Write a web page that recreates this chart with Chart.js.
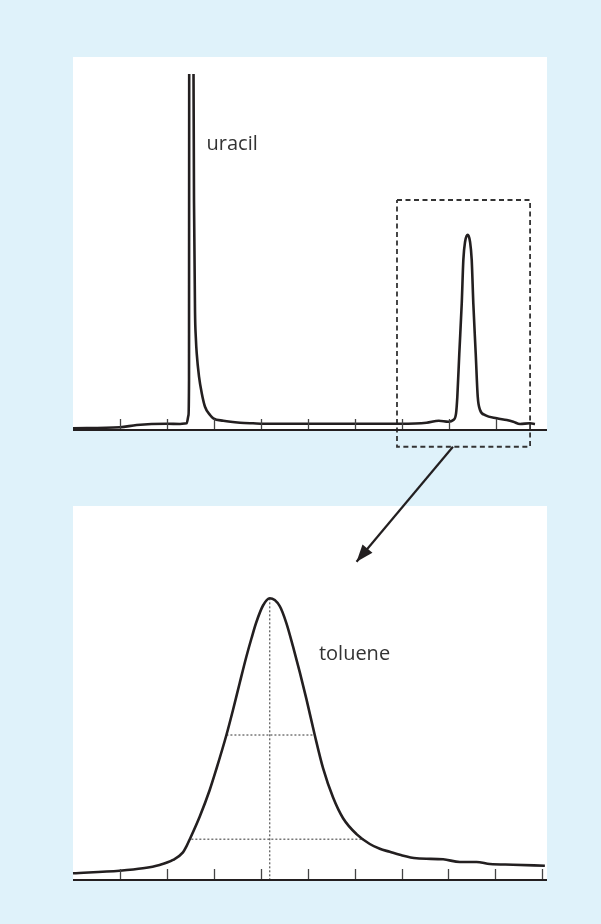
<!DOCTYPE html>
<html>
<head>
<meta charset="utf-8">
<script src="https://cdn.jsdelivr.net/npm/chart.js@4.4.0/dist/chart.umd.min.js"></script>
<style>
  body { margin: 0; width: 601px; height: 924px; background: #dff2fa; position: relative; overflow: hidden; }
  .panel { position: absolute; background: #fff; }
  canvas { position: absolute; left: 0; top: 0; }
</style>
</head>
<body>
<div class="panel" style="left:73px;top:57px;width:474px;height:374px"></div>
<div class="panel" style="left:73px;top:506px;width:474px;height:375px"></div>
<canvas id="zoomChart" width="601" height="924"></canvas>
<canvas id="fullChart" width="601" height="924"></canvas>
<script>
// full chromatogram (retention time, detector signal)
const fullTime = [0, 1.0, 1.355, 1.993, 2.276, 2.418, 2.456, 2.467, 2.471, 2.516, 2.563, 2.573, 2.595, 2.612, 2.631,
  2.680, 2.737, 2.807, 2.914, 2.984, 3.196, 3.552, 3.828, 4.19, 5.249, 6.951, 7.519, 7.780, 7.982, 8.088,
  8.146, 8.173, 8.215, 8.267, 8.301, 8.337, 8.395, 8.444, 8.479, 8.513, 8.564, 8.607, 8.656, 8.762, 9.011,
  9.224, 9.364, 9.506, 9.719, 9.825];
const fullSignal = [0.48, 0.76, 1.40, 1.77, 1.69, 1.88, 4.21, 14.0, 100, 130, 100, 64.6, 33.0, 26.0, 21.5,
  15.0, 10.4, 6.54, 4.21, 3.29, 2.61, 2.05, 1.88, 1.74, 1.74, 1.77, 2.05, 2.61, 2.33, 2.81,
  4.69, 9.35, 21.5, 35.6, 47.8, 52.8, 54.8, 52.8, 47.8, 35.6, 21.5, 9.35, 5.62, 4.21, 3.29,
  2.81, 2.33, 1.69, 1.88, 1.69];
const fullTicks = [1, 2, 3, 4, 5, 6, 7, 8, 9];

// expanded toluene peak
const zoomTime = [0, 0.994, 1.49, 1.846, 2.13, 2.343, 2.42, 2.486, 2.699, 2.913, 3.055, 3.269, 3.409, 3.552, 3.695,
  3.802, 3.908, 4.049, 4.192, 4.405, 4.548, 4.689, 4.832, 4.974, 5.151, 5.328, 5.542, 5.755, 6.041, 6.324,
  6.537, 6.750, 6.964, 7.320, 7.887, 8.243, 8.599, 8.883, 9.373, 10.055];
const zoomSignal = [2.23, 3.1, 3.9, 5.0, 6.67, 9.2, 11.3, 13.5, 21.1, 30.0, 37.0, 48.33, 56.67, 65.67, 74.5,
  80.5, 86.0, 91.5, 93.9, 91.3, 85.57, 77.77, 69.3, 60.3, 48.33, 37.3, 27.5, 20.6, 15.3, 12.0,
  10.4, 9.4, 8.4, 7.23, 6.9, 6.0, 6.0, 5.33, 5.1, 4.77];
const zoomTicks = [1, 2, 3, 4, 5, 6, 7, 8, 9, 10];

// peak measurements on the expanded trace
const apex = [4.192, 93.9];
const halfHeight = [3.269, 5.151, 48.33];
const baseWidth = [2.522, 6.200, 13.6];

// dashed selection box and arrow (full-trace units)
const boxTime = [6.89, 9.72];
const boxSignal = [-4.7, 64.6];
const arrowTime = [8.08, 6.03];
const arrowSignal = [-4.7, -37];

const INK = '#231f20';

function toPoints(xs, ys) {
  return xs.map((x, i) => ({ x: x, y: ys[i] }));
}

function axisPlugin(ticks, label) {
  return {
    id: 'axisMarks',
    afterDatasetsDraw(chart) {
      const ctx = chart.ctx;
      const xs = chart.scales.x, ys = chart.scales.y;
      const y0 = ys.getPixelForValue(0);
      ctx.save();
      ctx.strokeStyle = '#444';
      ctx.lineWidth = 1.3;
      ticks.forEach(t => {
        const px = Math.round(xs.getPixelForValue(t)) + 0.5;
        ctx.beginPath();
        ctx.moveTo(px, y0);
        ctx.lineTo(px, y0 - 11);
        ctx.stroke();
      });
      ctx.strokeStyle = INK;
      ctx.lineWidth = 2;
      ctx.beginPath();
      ctx.moveTo(chart.chartArea.left, y0);
      ctx.lineTo(chart.chartArea.right, y0);
      ctx.stroke();
      ctx.fillStyle = '#333';
      ctx.font = '20px "Open Sans"';
      ctx.textBaseline = 'alphabetic';
      ctx.fillText(label.text, xs.getPixelForValue(label.x), ys.getPixelForValue(label.y));
      ctx.restore();
    }
  };
}

const arrowHead = {
  id: 'arrowHead',
  afterDatasetsDraw(chart) {
    const meta = chart.getDatasetMeta(2);
    const a = meta.data[0], b = meta.data[1];
    const ang = Math.atan2(b.y - a.y, b.x - a.x);
    const len = 17, half = 6.5;
    const ctx = chart.ctx;
    ctx.save();
    ctx.fillStyle = INK;
    ctx.translate(b.x, b.y);
    ctx.rotate(ang);
    ctx.beginPath();
    ctx.moveTo(0, 0);
    ctx.lineTo(-len, -half);
    ctx.lineTo(-len, half);
    ctx.closePath();
    ctx.fill();
    ctx.restore();
  }
};

const baseOptions = {
  responsive: false,
  animation: false,
  events: [],
  plugins: { legend: { display: false }, tooltip: { enabled: false } },
  elements: { point: { radius: 0 } }
};

new Chart(document.getElementById('fullChart'), {
  type: 'line',
  data: {
    datasets: [{
      data: toPoints(fullTime, fullSignal),
      borderColor: INK,
      borderWidth: 2.6,
      cubicInterpolationMode: 'monotone',
      clip: 0
    }, {
      data: [
        { x: boxTime[0], y: boxSignal[1] }, { x: boxTime[1], y: boxSignal[1] },
        { x: boxTime[1], y: boxSignal[0] }, { x: boxTime[0], y: boxSignal[0] },
        { x: boxTime[0], y: boxSignal[1] }
      ],
      borderColor: '#333',
      borderWidth: 1.8,
      borderDash: [5, 3.5],
      tension: 0,
      clip: false
    }, {
      data: toPoints(arrowTime, arrowSignal),
      borderColor: INK,
      borderWidth: 2.2,
      tension: 0,
      clip: false
    }]
  },
  options: Object.assign({}, baseOptions, {
    layout: { padding: { left: 73, right: 54, top: 74, bottom: 494 } },
    scales: {
      x: { type: 'linear', min: 0, max: 10.08, display: false },
      y: { min: 0, max: 100, display: false }
    }
  }),
  plugins: [axisPlugin(fullTicks, { text: 'uracil', x: 2.84, y: 78.7 }), arrowHead]
});

new Chart(document.getElementById('zoomChart'), {
  type: 'line',
  data: {
    datasets: [{
      data: toPoints(zoomTime, zoomSignal),
      borderColor: INK,
      borderWidth: 2.6,
      cubicInterpolationMode: 'monotone',
      clip: false
    }, {
      data: [{ x: apex[0], y: apex[1] }, { x: apex[0], y: 0 }],
      borderColor: '#555',
      borderWidth: 1.2,
      borderDash: [2, 2],
      tension: 0
    }, {
      data: [{ x: halfHeight[0], y: halfHeight[2] }, { x: halfHeight[1], y: halfHeight[2] }],
      borderColor: '#555',
      borderWidth: 1.2,
      borderDash: [2, 2],
      tension: 0
    }, {
      data: [{ x: baseWidth[0], y: baseWidth[2] }, { x: baseWidth[1], y: baseWidth[2] }],
      borderColor: '#555',
      borderWidth: 1.2,
      borderDash: [2, 2],
      tension: 0
    }]
  },
  options: Object.assign({}, baseOptions, {
    layout: { padding: { left: 73, right: 54, top: 580, bottom: 44 } },
    scales: {
      x: { type: 'linear', min: 0, max: 10.1, display: false },
      y: { min: 0, max: 100, display: false }
    }
  }),
  plugins: [axisPlugin(zoomTicks, { text: 'toluene', x: 5.24, y: 73.3 })]
});
</script>
</body>
</html>
